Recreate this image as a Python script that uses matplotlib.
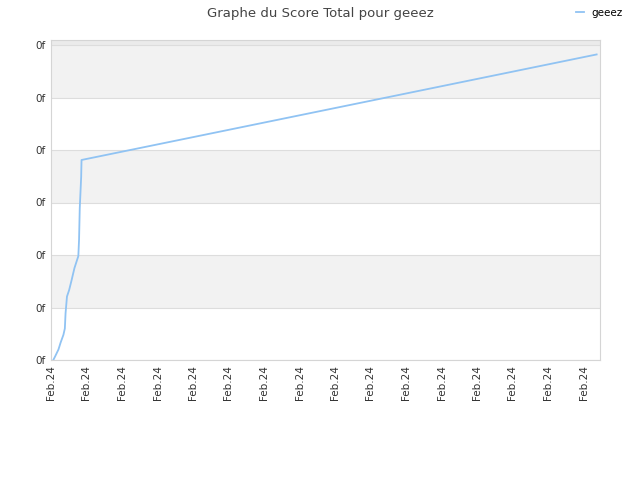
import matplotlib
matplotlib.use("Agg")
import matplotlib.pyplot as plt

# x in tick units (one "Feb.24" tick per unit), y in gridline units
x_vals = [0.065, 0.11, 0.21, 0.27, 0.35, 0.39, 0.41, 0.45, 0.51, 0.58, 0.66,
          0.77, 0.79, 0.81, 0.85, 0.86, 15.37]
scores = [0.0, 0.06, 0.20, 0.33, 0.48, 0.60, 0.89, 1.21, 1.33, 1.52, 1.75,
          1.98, 2.29, 2.89, 3.49, 3.81, 5.82]
tick_pos = list(range(16))
tick_labels = ["Feb.24"] * 16
y_ticks = list(range(7))
y_labels = ["0f"] * 7

fig = plt.figure(figsize=(6.4, 4.8), dpi=100)
ax = fig.add_axes([51 / 640, 120 / 480, 549 / 640, 320 / 480])

ax.set_xlim(0, 549 / 35.5)
ax.set_ylim(0, 320 / 52.5)

for lo in [1, 3, 5]:
    ax.axhspan(lo, lo + 1, color="#f2f2f2", zorder=0, lw=0)
ax.axhspan(6, 320 / 52.5, color="#ebebeb", zorder=0, lw=0)
for y in y_ticks:
    ax.axhline(y, color="#dddddd", lw=0.8, zorder=1)

ax.plot(x_vals, scores, color="#90c3f3", lw=1.3, label="geeez", zorder=3)

ax.set_xticks(tick_pos)
ax.set_xticklabels(tick_labels, rotation=90, fontsize=7.5, color="#333333")
ax.set_yticks(y_ticks)
ax.set_yticklabels(y_labels, fontsize=7.5, color="#333333")
ax.tick_params(length=0, pad=4)

for s in ax.spines.values():
    s.set_color("#d5d5d5")
    s.set_linewidth(0.8)

fig.suptitle("Graphe du Score Total pour geeez", x=0.5, y=0.985,
             fontsize=9.5, color="#444444")
fig.legend(loc="upper right", bbox_to_anchor=(0.988, 1.003), frameon=False,
           fontsize=7.5, handlelength=0.8, handletextpad=0.7)

fig.savefig("out.png", dpi=100)
